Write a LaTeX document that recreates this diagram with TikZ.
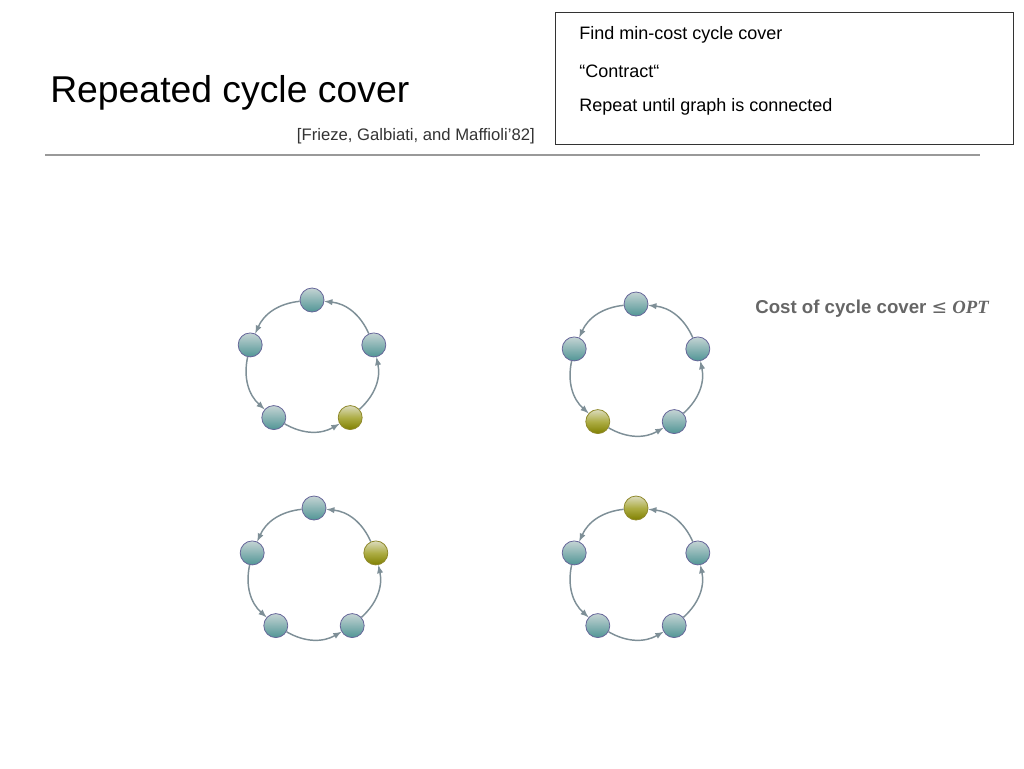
\documentclass[tikz,border=0pt]{standalone}
\usepackage{fontspec}
\usetikzlibrary{calc}
\setmainfont{Liberation Sans}
\newfontfamily\serifb{Liberation Serif}
\newfontfamily\djsym{DejaVu Sans}
\begin{document}
\begin{tikzpicture}[x=0.75pt,y=-0.75pt,
  bnode/.style={circle,minimum size=18pt,inner sep=0pt,draw=blue!20!gray,line width=0.6pt,top color=cyan!15!gray!40,bottom color=cyan!30!gray!90!black},
  ynode/.style={circle,minimum size=18pt,inner sep=0pt,draw=olive!70!gray,line width=0.6pt,top color=yellow!30!gray!40,bottom color=olive!70!gray},
  cyc/.style={draw=cyan!20!gray!90!black,line width=1.1pt,-latex,bend right=30},
  txt/.style={anchor=west,inner sep=0pt,font=\fontsize{13.5pt}{16pt}\selectfont}]
\useasboundingbox (0,0) rectangle (1024,768);
\node[anchor=west,inner sep=0pt,font=\fontsize{28pt}{32pt}\selectfont] (title) at (50,93) {Repeated cycle cover};
\node[anchor=east,inner sep=0pt,font=\fontsize{12.5pt}{15pt}\selectfont,text=black!80] (cite) at (535,136) {[Frieze, Galbiati, and Maffioli’82]};
\draw[gray!80,line width=1pt] (45,155) -- (980,155);
\node[draw=black!80,line width=0.7pt,minimum width=343.5pt,minimum height=99pt,anchor=north west,inner sep=0pt] (box) at (555,12) {};
\node[txt] (t1) at (579,35) {Find min-cost cycle cover};
\node[txt] (t2) at (579,71) {“Contract“};
\node[txt] (t3) at (579,107) {Repeat until graph is connected};
\node[anchor=west,inner sep=0pt,text=black!60,font=\fontsize{14pt}{16pt}\selectfont\bfseries] (cost) at (755,309) {Cost of cycle cover {\djsym\mdseries ≤} {\serifb\itshape OPT}};
\newcommand\mycycle[4]{%
  \foreach \i/\a in {1/-90,2/198,3/126,4/54,5/-18}{
    \ifnum\i=#4\relax\def\st{ynode}\else\def\st{bnode}\fi
    \node[\st] (#3\i) at ($(#1,#2)+(\a:65)$) {};
  }
  \draw[cyc] (#31) to (#32);
  \draw[cyc] (#32) to (#33);
  \draw[cyc] (#33) to (#34);
  \draw[cyc] (#34) to (#35);
  \draw[cyc] (#35) to (#31);
}
\mycycle{312}{365}{a}{4}
\mycycle{636}{369}{b}{3}
\mycycle{314}{573}{c}{5}
\mycycle{636}{573}{d}{1}
\end{tikzpicture}
\end{document}
